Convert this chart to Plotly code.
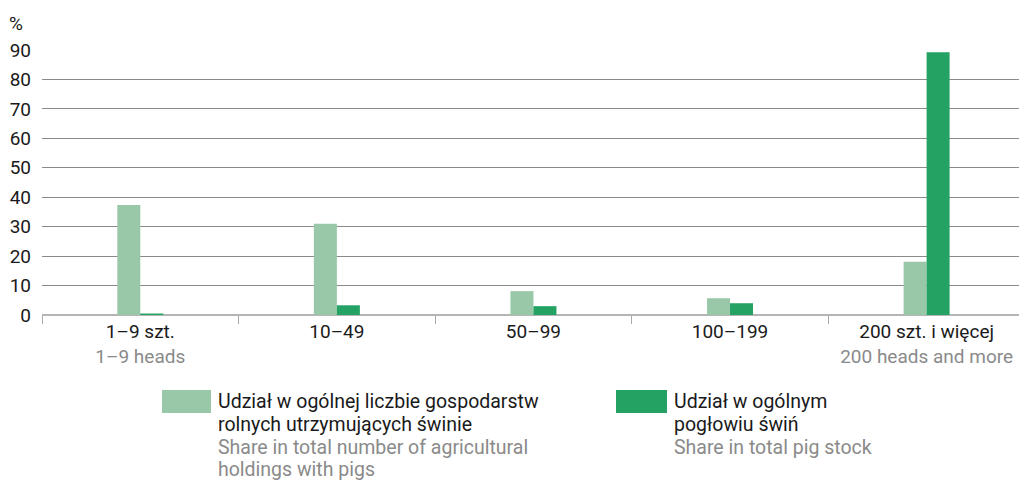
import plotly.graph_objects as go

categories = ["1–9 szt.", "10–49", "50–99", "100–199", "200 szt. i więcej"]
categories_en = ["1–9 heads", "", "", "", "200 heads and more"]
share_holdings = [37.4, 31.0, 8.1, 5.7, 18.1]
share_stock = [0.5, 3.3, 3.0, 4.0, 89.2]
y_ticks = [0, 10, 20, 30, 40, 50, 60, 70, 80, 90]

series_pl = [["Udział w ogólnej liczbie gospodarstw", "rolnych utrzymujących świnie"],
             ["Udział w ogólnym", "pogłowiu świń"]]
series_en = [["Share in total number of agricultural", "holdings with pigs"],
             ["Share in total pig stock"]]

LIGHT = "#98c8a7"
DARK = "#23a263"
GREY_TXT = "#8a8a8a"
FONT = "Roboto"

ticktext = []
for pl, en in zip(categories, categories_en):
    if en:
        ticktext.append(f"{pl}<br><span style='color:{GREY_TXT}'>{en}</span>")
    else:
        ticktext.append(pl)

fig = go.Figure()
fig.add_trace(go.Bar(x=categories, y=share_holdings, marker=dict(color=LIGHT, line=dict(width=0)),
                     showlegend=False, name="holdings"))
fig.add_trace(go.Bar(x=categories, y=share_stock, marker=dict(color=DARK, line=dict(width=0)),
                     showlegend=False, name="stock"))

W, H = 1019, 481
L, R, T, B = 42, 0, 50, 166

fig.update_layout(
    width=W, height=H,
    margin=dict(l=L, r=R, t=T, b=B, autoexpand=False),
    paper_bgcolor="white", plot_bgcolor="white",
    barmode="group", bargap=0.766, bargroupgap=0,
    font=dict(family=FONT, size=19, color="#1a1a1a"),
    hovermode=False,
    xaxis=dict(
        type="category",
        range=[-0.5, 4.47],
        tickmode="array", tickvals=categories, ticktext=ticktext,
        tickson="boundaries", ticks="outside", ticklen=8, tickcolor="#aaaaaa", tickwidth=1,
        showline=False, showgrid=False, zeroline=False, automargin=False,
        ticklabelstandoff=3,
        tickfont=dict(family=FONT, size=19, color="#1a1a1a"),
    ),
    yaxis=dict(
        range=[0, 90],
        tickmode="array", tickvals=y_ticks,
        showgrid=True, gridcolor="#8a8a8a", gridwidth=1,
        zeroline=True, zerolinecolor="#b5b5b5", zerolinewidth=2,
        ticks="", ticklabelstandoff=10, automargin=False,
        tickfont=dict(family=FONT, size=19, color="#1a1a1a"),
    ),
)

PW = W - L - R
PH = H - T - B

def yp(py):
    return (H - B - py) / PH

def xp(px):
    return (px - L) / PW

shapes = []
annotations = []
annotations.append(dict(xref="paper", yref="paper", x=xp(7), y=yp(23),
                        xanchor="left", yanchor="middle", text="%", showarrow=False,
                        font=dict(family=FONT, size=19, color="#1a1a1a")))

legend_pos = [(162, 211), (616, 667)]
line_y = [401, 424.5, 447.5, 469.5]
colors = [LIGHT, DARK]
for (x0, x1), col, pl, en in zip(legend_pos, colors, series_pl, series_en):
    shapes.append(dict(type="rect", xref="paper", yref="paper",
                       x0=xp(x0), x1=xp(x1), y0=yp(413), y1=yp(390),
                       fillcolor=col, line=dict(width=0)))
    lines = [(t, "#1a1a1a") for t in pl] + [(t, GREY_TXT) for t in en]
    for (txt, c), ly in zip(lines, line_y):
        annotations.append(dict(xref="paper", yref="paper", x=xp(x1 + 6), y=yp(ly),
                                xanchor="left", yanchor="middle", align="left", showarrow=False,
                                borderpad=0,
                                text=txt, font=dict(family=FONT, size=19.5, color=c)))

fig.update_layout(shapes=shapes, annotations=annotations)
fig.write_html("out.html", config={"displayModeBar": False, "staticPlot": True},
               post_script="document.body.style.margin='0';document.body.style.overflow='hidden';")
